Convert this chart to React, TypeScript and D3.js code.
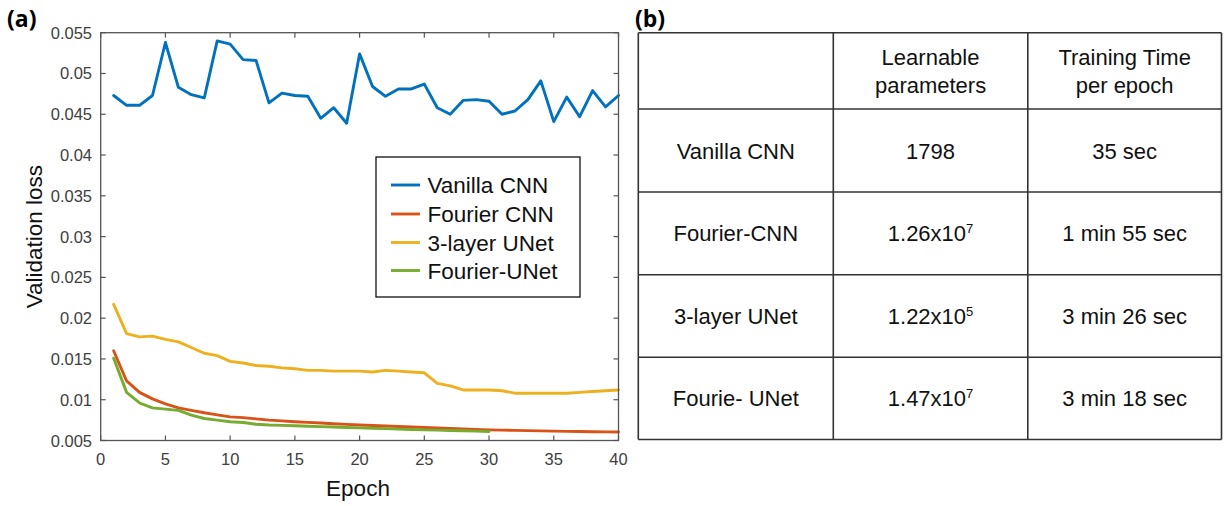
import React from "react";
import * as d3 from "d3";

const epochs = d3.range(1, 41);
const vanillaCNN = [0.0473, 0.0461, 0.0461, 0.0473, 0.0538, 0.0483, 0.0474, 0.0470, 0.0540, 0.0536,
  0.0517, 0.0516, 0.0464, 0.0476, 0.0473, 0.0472, 0.0445, 0.0458, 0.0439, 0.0524,
  0.0484, 0.0472, 0.0481, 0.0481, 0.0487, 0.0458, 0.0450, 0.0467, 0.0468, 0.0466,
  0.0450, 0.0454, 0.0468, 0.0491, 0.0441, 0.0471, 0.0447, 0.0479, 0.0459, 0.0473];
const fourierCNN = [0.0160, 0.0123, 0.0109, 0.0101, 0.0095, 0.0090, 0.0087, 0.0084, 0.00815, 0.0079,
  0.0078, 0.00765, 0.0075, 0.0074, 0.0073, 0.00722, 0.00714, 0.00706, 0.00698, 0.0069,
  0.00684, 0.00678, 0.00672, 0.00666, 0.0066, 0.00654, 0.00648, 0.00642, 0.00636, 0.0063,
  0.00627, 0.00624, 0.00621, 0.00618, 0.00615, 0.00612, 0.0061, 0.00608, 0.00606, 0.00604];
const unet3 = [0.0217, 0.0181, 0.0177, 0.0178, 0.0174, 0.0171, 0.0164, 0.0157, 0.0154, 0.0147,
  0.0145, 0.0142, 0.0141, 0.0139, 0.0138, 0.0136, 0.0136, 0.0135, 0.0135, 0.0135,
  0.0134, 0.0136, 0.0135, 0.0134, 0.0133, 0.0120, 0.0117, 0.0112, 0.0112, 0.0112,
  0.0111, 0.0108, 0.0108, 0.0108, 0.0108, 0.0108, 0.0109, 0.0110, 0.0111, 0.0112];
const fourierUNet = [0.0151, 0.0109, 0.0096, 0.0090, 0.00885, 0.0087, 0.0081, 0.0077, 0.0075, 0.0073,
  0.0072, 0.0070, 0.0069, 0.00685, 0.0068, 0.00675, 0.0067, 0.00665, 0.0066, 0.00655,
  0.0065, 0.00645, 0.0064, 0.00635, 0.0063, 0.00627, 0.00623, 0.0062, 0.00615, 0.0061];

const seriesNames = ["Vanilla CNN", "Fourier CNN", "3-layer UNet", "Fourier-UNet"];
const seriesColors = ["#0072BD", "#D95319", "#EDB120", "#77AC30"];
const seriesData = [vanillaCNN, fourierCNN, unet3, fourierUNet];

const xTicks = [0, 5, 10, 15, 20, 25, 30, 35, 40];
const yTicks = [0.005, 0.01, 0.015, 0.02, 0.025, 0.03, 0.035, 0.04, 0.045, 0.05, 0.055];
const yTickLabels = ["0.005", "0.01", "0.015", "0.02", "0.025", "0.03", "0.035", "0.04", "0.045", "0.05", "0.055"];

const tableHeader = [["Learnable", "parameters"], ["Training Time", "per epoch"]];
const tableModels = ["Vanilla CNN", "Fourier-CNN", "3-layer UNet", "Fourie- UNet"];
const tableParamBase = ["1798", "1.26x10", "1.22x10", "1.47x10"];
const tableParamExp = ["", "7", "5", "7"];
const tableTimes = ["35 sec", "1 min 55 sec", "3 min 26 sec", "3 min 18 sec"];

const FONT = "'Liberation Sans', Arial, Helvetica, sans-serif";

export default function App() {
  const x = d3.scaleLinear().domain([0, 40]).range([100.7, 618.5]);
  const y = d3.scaleLinear().domain([0.005, 0.055]).range([440.5, 32.7]);
  const line = d3.line<number>().x((_, i) => x(epochs[i])).y((d) => y(d));
  const [x0, x1] = x.range();
  const [yb, yt] = y.range();
  const tickLen = 5;
  const axisColor = "#555";

  const colX = [638.3, 833.3, 1027.8, 1221.5];
  const rowY = [32.7, 109, 192, 274.8, 357.3, 439.5];
  const tcx = (i: number) => (colX[i] + colX[i + 1]) / 2;

  const legX = 376, legY = 157, legW = 204, legH = 140;
  const legRowY = [185, 214, 242.5, 270.5];

  return (
    <svg width={1225} height={506} style={{ position: "absolute", left: 0, top: 0, background: "#fff" }}
      fontFamily={FONT}>
      <rect x={0} y={0} width={1225} height={506} fill="#fff" />
      {/* panel labels */}
      <text x={7} y={27} fontSize={23} fontWeight="bold" fill="#000" fontFamily="'Open Sans', 'Liberation Sans', sans-serif">(a)</text>
      <text x={635} y={27} fontSize={23} fontWeight="bold" fill="#000" fontFamily="'Open Sans', 'Liberation Sans', sans-serif">(b)</text>

      {/* plot lines */}
      <g fill="none" strokeWidth={2.9} strokeLinejoin="round" strokeLinecap="round">
        {seriesData.map((s, k) => (
          <path key={k} d={line(s) || ""} stroke={seriesColors[k]} />
        ))}
      </g>

      {/* axes box */}
      <rect x={x0} y={yt} width={x1 - x0} height={yb - yt} fill="none" stroke={axisColor} strokeWidth={1.3} />
      {xTicks.map((t) => (
        <g key={"xt" + t}>
          <line x1={x(t)} x2={x(t)} y1={yb} y2={yb - tickLen} stroke={axisColor} strokeWidth={1.2} />
          <line x1={x(t)} x2={x(t)} y1={yt} y2={yt + tickLen} stroke={axisColor} strokeWidth={1.2} />
          <text x={x(t)} y={465} fontSize={16.5} fill="#404040" textAnchor="middle">{t}</text>
        </g>
      ))}
      {yTicks.map((t, i) => (
        <g key={"yt" + i}>
          <line x1={x0} x2={x0 + tickLen} y1={y(t)} y2={y(t)} stroke={axisColor} strokeWidth={1.2} />
          <line x1={x1} x2={x1 - tickLen} y1={y(t)} y2={y(t)} stroke={axisColor} strokeWidth={1.2} />
          <text x={92} y={y(t) + 6} fontSize={16.5} fill="#404040" textAnchor="end">{yTickLabels[i]}</text>
        </g>
      ))}
      <text x={358} y={496} fontSize={22.5} fill="#111" textAnchor="middle">Epoch</text>
      <text transform={`translate(42,${(yt + yb) / 2}) rotate(-90)`} fontSize={22.5} fill="#111" textAnchor="middle">Validation loss</text>

      {/* legend */}
      <rect x={legX} y={legY} width={legW} height={legH} fill="#fff" stroke="#111" strokeWidth={1.3} />
      {seriesNames.map((n, k) => (
        <g key={"lg" + k}>
          <line x1={391} x2={420} y1={legRowY[k]} y2={legRowY[k]} stroke={seriesColors[k]} strokeWidth={2.9} />
          <text x={427.5} y={legRowY[k] + 8} fontSize={22.5} fill="#111">{n}</text>
        </g>
      ))}

      {/* table */}
      <g stroke="#333" strokeWidth={1.6}>
        {colX.map((cx, i) => (
          <line key={"c" + i} x1={cx} x2={cx} y1={rowY[0]} y2={rowY[rowY.length - 1]} />
        ))}
        {rowY.map((ry, i) => (
          <line key={"r" + i} x1={colX[0]} x2={colX[colX.length - 1]} y1={ry} y2={ry} />
        ))}
      </g>
      <g fontSize={22} fill="#111" textAnchor="middle">
        {tableHeader.map((h, i) => (
          <g key={"h" + i}>
            <text x={tcx(i + 1)} y={65}>{h[0]}</text>
            <text x={tcx(i + 1)} y={92.5}>{h[1]}</text>
          </g>
        ))}
        {tableModels.map((m, r) => {
          const by = (rowY[r + 1] + rowY[r + 2]) / 2 + 8;
          return (
            <g key={"row" + r}>
              <text x={tcx(0)} y={by}>{m}</text>
              <text x={tcx(1)} y={by}>
                {tableParamBase[r]}
                {tableParamExp[r] ? (
                  <tspan fontSize={13} dy={-8}>{tableParamExp[r]}</tspan>
                ) : null}
              </text>
              <text x={tcx(2)} y={by}>{tableTimes[r]}</text>
            </g>
          );
        })}
      </g>
    </svg>
  );
}
